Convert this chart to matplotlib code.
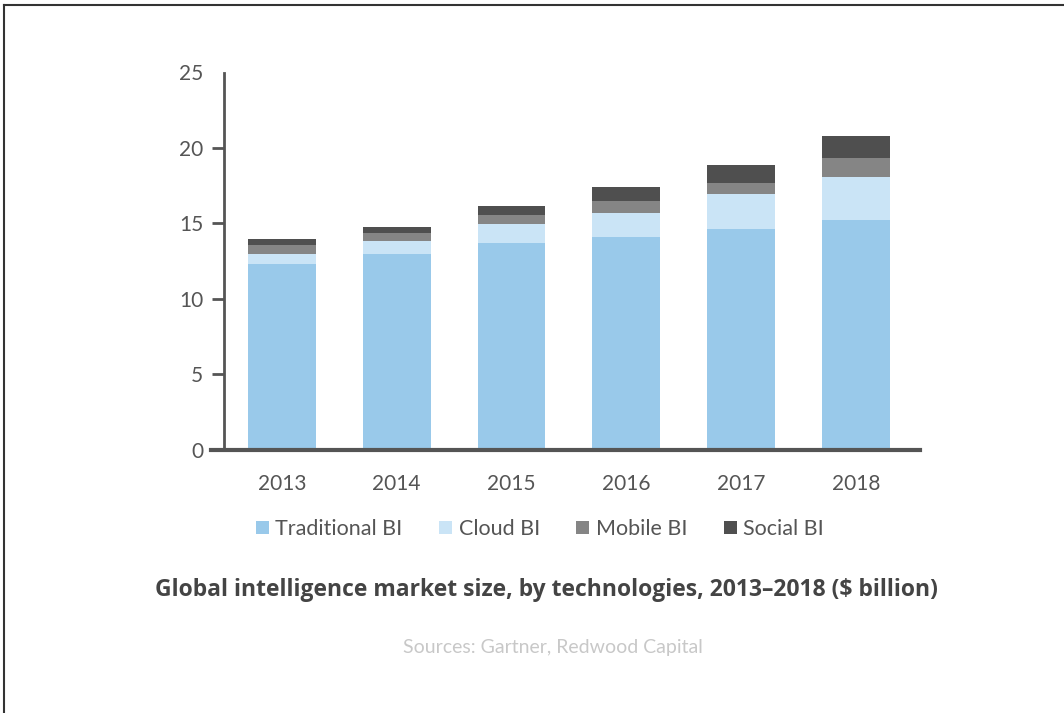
import matplotlib
matplotlib.use("Agg")
import matplotlib.pyplot as plt
from matplotlib.lines import Line2D
from matplotlib.patches import Patch
import numpy as np

years = ["2013", "2014", "2015", "2016", "2017", "2018"]
traditional = [12.3, 12.95, 13.7, 14.1, 14.6, 15.2]
cloud = [0.65, 0.87, 1.25, 1.6, 2.37, 2.88]
mobile = [0.6, 0.53, 0.6, 0.8, 0.73, 1.26]
social = [0.4, 0.42, 0.62, 0.9, 1.15, 1.44]
series_names = ["Traditional BI", "Cloud BI", "Mobile BI", "Social BI"]
colors = ["#99C9EA", "#CAE4F6", "#858585", "#4F4F4F"]
yticks = [0, 5, 10, 15, 20, 25]

plt.rcParams['font.family'] = ['Lato', 'DejaVu Sans']

fig = plt.figure(figsize=(10.64, 7.13), dpi=100)
fig.patch.set_facecolor("white")

ax = fig.add_axes([224/1064, 1-449.5/713, (920-224)/1064, (449.5-72.5)/713])

x = np.arange(len(years))
bottom = np.zeros(len(years))
for name, vals, c in zip(series_names, [traditional, cloud, mobile, social], colors):
    ax.bar(x, vals, bottom=bottom, width=0.59, color=c, label=name, zorder=2)
    bottom += np.array(vals)

ax.set_xlim(-0.505, 5.56)
ax.set_ylim(0, 25)
ax.set_yticks(yticks)
ax.set_yticklabels([str(t) for t in yticks])
ax.set_xticks(x)
ax.set_xticklabels(years)

axis_color = "#555555"
for s in ["top", "right"]:
    ax.spines[s].set_visible(False)
ax.spines["left"].set_color(axis_color)
ax.spines["left"].set_linewidth(2)
ax.spines["bottom"].set_color(axis_color)
ax.spines["bottom"].set_linewidth(3)
ax.spines["bottom"].set_bounds(-0.62, 5.56)
ax.spines["bottom"].set_zorder(3)

ax.tick_params(axis="y", length=9, width=2, color=axis_color, labelsize=15,
               labelcolor="#555555", pad=6)
ax.tick_params(axis="x", length=0, labelsize=15, labelcolor="#555555", pad=18)
ax.yaxis.get_major_ticks()[-1].tick1line.set_visible(False)

handles = [Patch(facecolor=c, edgecolor="none") for c in colors]
fig.legend(handles, series_names, loc="center", bbox_to_anchor=(540/1064, 1-529/713),
           ncol=4, frameon=False, fontsize=15.5, handlelength=0.6, handleheight=0.6,
           handletextpad=0.3, columnspacing=1.7, labelcolor="#555555")

fig.text(546/1064, 1-590/713,
         "Global intelligence market size, by technologies, 2013\u20132018 ($ billion)",
         ha="center", va="center", fontsize=16.5, fontweight="bold", color="#444444",
         family=["Open Sans", "DejaVu Sans"])
fig.text(553/1064, 1-648/713, "Sources: Gartner, Redwood Capital",
         ha="center", va="center", fontsize=14, color="#C8C8C8")

# outer border (top and left edges)
fig.add_artist(Line2D([4/1064, 1], [1-5/713, 1-5/713], color="#333333", lw=1.5,
                      transform=fig.transFigure))
fig.add_artist(Line2D([4/1064, 4/1064], [0, 1-5/713], color="#333333", lw=1.5,
                      transform=fig.transFigure))

fig.savefig("out.png", dpi=100, facecolor="white")
